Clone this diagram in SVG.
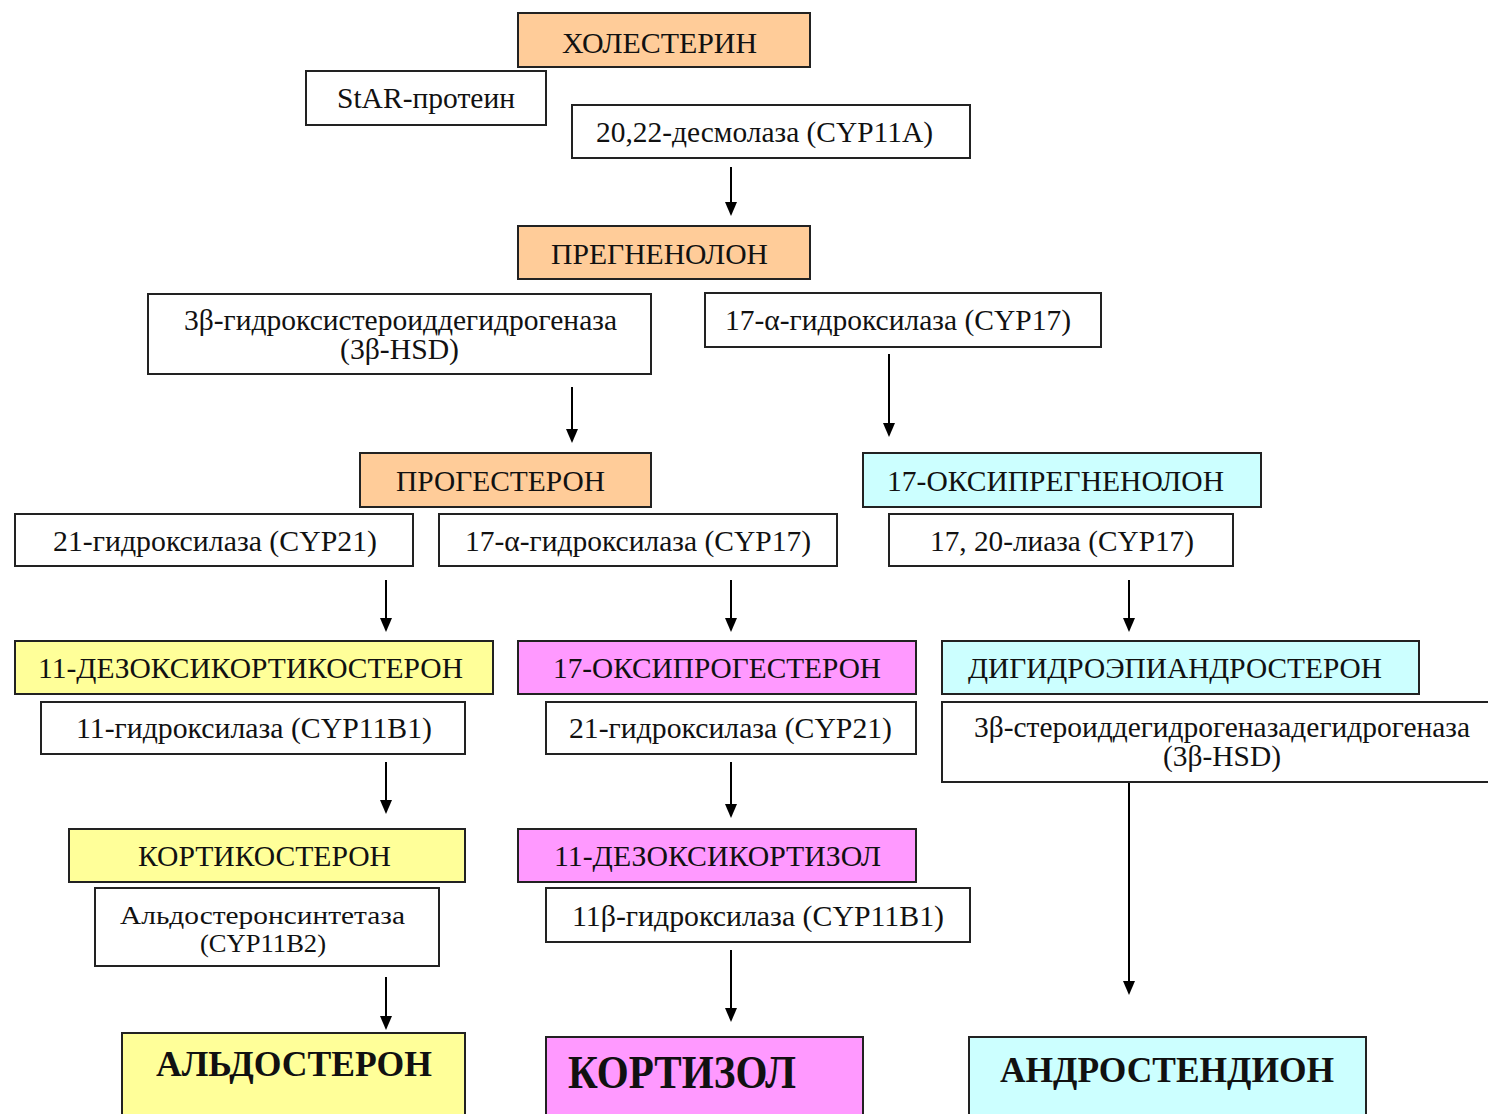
<svg xmlns="http://www.w3.org/2000/svg" width="1488" height="1114" viewBox="0 0 1488 1114">
<style>
.b{stroke:#222;stroke-width:2}
.w{fill:#fff}
.pe{fill:#FFCC99}
.cy{fill:#CCFFFF}
.ye{fill:#FFFF99}
.ma{fill:#FF99FF}
text{font-family:"Liberation Serif","Times New Roman",serif;fill:#111;font-size:29px;text-anchor:middle}
.sm{font-size:26px}
.bd{font-weight:bold;font-size:36px}
.c{stroke:#000;stroke-width:2;fill:none}
</style>
<defs>
<marker id="ah" markerUnits="userSpaceOnUse" markerWidth="14" markerHeight="12" refX="4" refY="6" orient="auto">
<path d="M0,0 L14,6 L0,12 z" fill="#000"/>
</marker>
</defs>
<rect width="1488" height="1114" fill="#fff"/>
<g id="connectors">
<line class="c" x1="731" y1="167" x2="731" y2="206" marker-end="url(#ah)"/>
<line class="c" x1="572" y1="387" x2="572" y2="433" marker-end="url(#ah)"/>
<line class="c" x1="889" y1="354" x2="889" y2="427" marker-end="url(#ah)"/>
<line class="c" x1="386" y1="580" x2="386" y2="622" marker-end="url(#ah)"/>
<line class="c" x1="731" y1="580" x2="731" y2="622" marker-end="url(#ah)"/>
<line class="c" x1="1129" y1="580" x2="1129" y2="622" marker-end="url(#ah)"/>
<line class="c" x1="386" y1="762" x2="386" y2="804" marker-end="url(#ah)"/>
<line class="c" x1="731" y1="762" x2="731" y2="808" marker-end="url(#ah)"/>
<line class="c" x1="1129" y1="782" x2="1129" y2="985" marker-end="url(#ah)"/>
<line class="c" x1="386" y1="977" x2="386" y2="1020" marker-end="url(#ah)"/>
<line class="c" x1="731" y1="950" x2="731" y2="1012" marker-end="url(#ah)"/>
</g>
<g id="cholesterol"><rect class="b pe" x="518" y="13" width="292" height="54"/><text x="659.5" y="53" textLength="195" lengthAdjust="spacingAndGlyphs">ХОЛЕСТЕРИН</text></g>
<g id="star"><rect class="b w" x="306" y="71" width="240" height="54"/><text x="426" y="108" textLength="178" lengthAdjust="spacingAndGlyphs">StAR-протеин</text></g>
<g id="desmolase"><rect class="b w" x="572" y="105" width="398" height="53"/><text x="764.5" y="142" textLength="337" lengthAdjust="spacingAndGlyphs">20,22-десмолаза (CYP11A)</text></g>
<g id="pregnenolone"><rect class="b pe" x="518" y="226" width="292" height="53"/><text x="659.5" y="264" textLength="217" lengthAdjust="spacingAndGlyphs">ПРЕГНЕНОЛОН</text></g>
<g id="hsd1"><rect class="b w" x="148" y="294" width="503" height="80"/><text x="400.5" y="330" textLength="433" lengthAdjust="spacingAndGlyphs">3β-гидроксистероиддегидрогеназа</text><text x="399.5" y="359" textLength="119" lengthAdjust="spacingAndGlyphs">(3β-HSD)</text></g>
<g id="cyp17a"><rect class="b w" x="705" y="293" width="396" height="54"/><text x="898" y="330" textLength="346" lengthAdjust="spacingAndGlyphs">17-α-гидроксилаза (CYP17)</text></g>
<g id="progesterone"><rect class="b pe" x="360" y="453" width="291" height="54"/><text x="500.5" y="491" textLength="209" lengthAdjust="spacingAndGlyphs">ПРОГЕСТЕРОН</text></g>
<g id="oxypregnenolone"><rect class="b cy" x="863" y="453" width="398" height="54"/><text x="1055.5" y="491" textLength="337" lengthAdjust="spacingAndGlyphs">17-ОКСИПРЕГНЕНОЛОН</text></g>
<g id="cyp21a"><rect class="b w" x="15" y="514" width="398" height="52"/><text x="215" y="551" textLength="324" lengthAdjust="spacingAndGlyphs">21-гидроксилаза (CYP21)</text></g>
<g id="cyp17b"><rect class="b w" x="439" y="514" width="398" height="52"/><text x="638" y="551" textLength="346" lengthAdjust="spacingAndGlyphs">17-α-гидроксилаза (CYP17)</text></g>
<g id="lyase"><rect class="b w" x="889" y="514" width="344" height="52"/><text x="1062" y="551" textLength="264" lengthAdjust="spacingAndGlyphs">17, 20-лиаза (CYP17)</text></g>
<g id="deoxycorticosterone"><rect class="b ye" x="15" y="641" width="478" height="53"/><text x="250.5" y="678" textLength="425" lengthAdjust="spacingAndGlyphs">11-ДЕЗОКСИКОРТИКОСТЕРОН</text></g>
<g id="oxyprogesterone"><rect class="b ma" x="518" y="641" width="398" height="53"/><text x="717" y="678" textLength="328" lengthAdjust="spacingAndGlyphs">17-ОКСИПРОГЕСТЕРОН</text></g>
<g id="dhea"><rect class="b cy" x="942" y="641" width="477" height="53"/><text x="1175" y="678" textLength="414" lengthAdjust="spacingAndGlyphs">ДИГИДРОЭПИАНДРОСТЕРОН</text></g>
<g id="cyp11b1a"><rect class="b w" x="41" y="702" width="424" height="52"/><text x="254" y="738" textLength="356" lengthAdjust="spacingAndGlyphs">11-гидроксилаза (CYP11B1)</text></g>
<g id="cyp21b"><rect class="b w" x="546" y="702" width="370" height="52"/><text x="730.5" y="738" textLength="323" lengthAdjust="spacingAndGlyphs">21-гидроксилаза (CYP21)</text></g>
<g id="hsd2"><rect class="b w" x="942" y="702" width="560" height="80"/><text x="1222" y="737" textLength="496" lengthAdjust="spacingAndGlyphs">3β-стероиддегидрогеназадегидрогеназа</text><text x="1222" y="766" textLength="118" lengthAdjust="spacingAndGlyphs">(3β-HSD)</text></g>
<g id="corticosterone"><rect class="b ye" x="69" y="829" width="396" height="53"/><text x="264.5" y="866" textLength="253" lengthAdjust="spacingAndGlyphs">КОРТИКОСТЕРОН</text></g>
<g id="deoxycortisol"><rect class="b ma" x="518" y="829" width="398" height="53"/><text x="717.5" y="866" textLength="327" lengthAdjust="spacingAndGlyphs">11-ДЕЗОКСИКОРТИЗОЛ</text></g>
<g id="aldosynthase"><rect class="b w" x="95" y="888" width="344" height="78"/><text class="sm" x="262.5" y="924" textLength="285" lengthAdjust="spacingAndGlyphs">Альдостеронсинтетаза</text><text class="sm" x="263" y="952" textLength="126" lengthAdjust="spacingAndGlyphs">(CYP11B2)</text></g>
<g id="cyp11b1b"><rect class="b w" x="546" y="888" width="424" height="54"/><text x="758" y="926" textLength="372" lengthAdjust="spacingAndGlyphs">11β-гидроксилаза (CYP11B1)</text></g>
<g id="aldosterone"><rect class="b ye" x="122" y="1033" width="343" height="90"/><text class="bd" x="294" y="1076" textLength="276" lengthAdjust="spacingAndGlyphs">АЛЬДОСТЕРОН</text></g>
<g id="cortisol"><rect class="b ma" x="546" y="1037" width="317" height="90"/><text class="bd" x="568" y="1088" style="text-anchor:start;font-size:46px" textLength="228" lengthAdjust="spacingAndGlyphs">КОРТИЗОЛ</text></g>
<g id="androstenedione"><rect class="b cy" x="969" y="1037" width="397" height="90"/><text class="bd" x="1167" y="1082" textLength="334" lengthAdjust="spacingAndGlyphs">АНДРОСТЕНДИОН</text></g>
</svg>
